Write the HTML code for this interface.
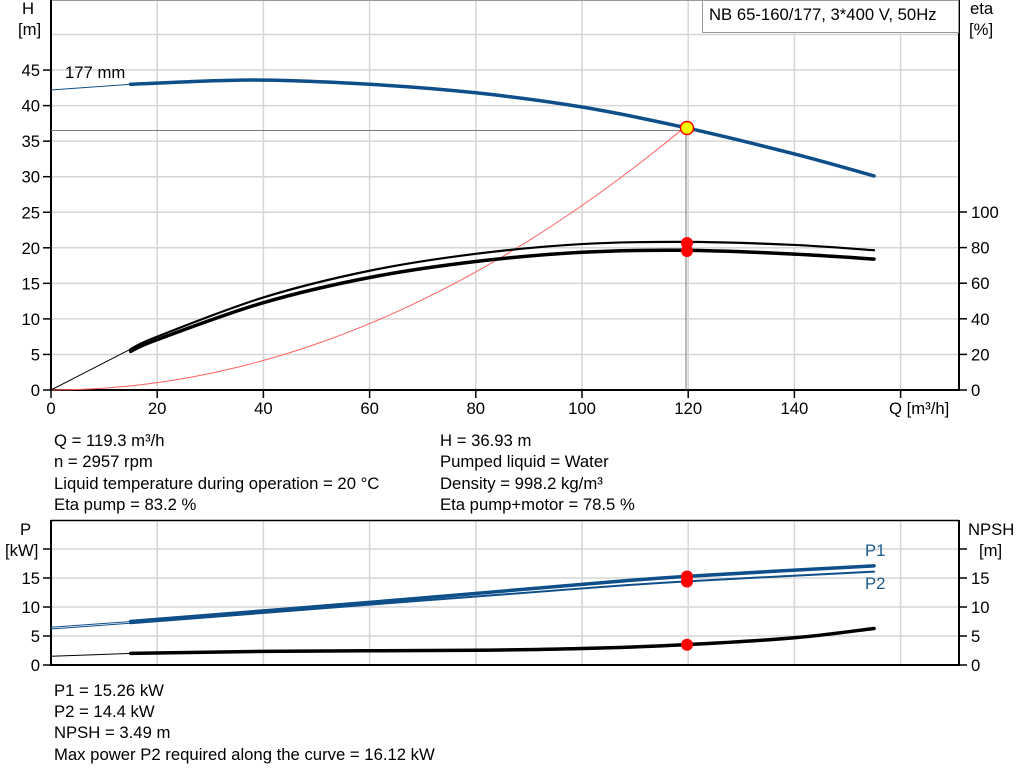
<!DOCTYPE html>
<html><head><meta charset="utf-8"><style>
html,body{margin:0;padding:0;background:#fff;}
svg{display:block;font-family:"Liberation Sans",Arial,sans-serif;}
text{font-size:16.7px;fill:#000;}
</style></head><body>
<svg id="s" width="1024" height="781" viewBox="0 0 1024 781" xmlns="http://www.w3.org/2000/svg">
<g id="grid" stroke="#d6d6d6" stroke-width="1.5"></g>
<line x1="51" y1="0.5" x2="959" y2="0.5" stroke="#999" stroke-width="1"/>
<line x1="51" y1="0" x2="51" y2="391" stroke="#000" stroke-width="2"/>
<line x1="959" y1="0" x2="959" y2="391" stroke="#000" stroke-width="2"/>
<line x1="50" y1="390" x2="960" y2="390" stroke="#000" stroke-width="2"/>
<line x1="51" y1="520.5" x2="959" y2="520.5" stroke="#000" stroke-width="1.5"/>
<line x1="51" y1="520" x2="51" y2="666" stroke="#000" stroke-width="2"/>
<line x1="959" y1="520" x2="959" y2="666" stroke="#000" stroke-width="2"/>
<line x1="50" y1="665" x2="960" y2="665" stroke="#000" stroke-width="2"/>
<g id="ticks" stroke="#000" stroke-width="1.5"></g>
<g id="labels"></g>
<rect x="702.5" y="0.5" width="256" height="32" fill="#fff" stroke="#999"/>
<text x="709" y="20">NB 65-160/177, 3*400 V, 50Hz</text>
<text x="22" y="14">H</text><text x="18" y="35">[m]</text>
<text x="970" y="14">eta</text><text x="969" y="35">[%]</text>
<text x="65" y="78">177 mm</text>
<text x="889" y="414">Q [m³/h]</text>
<text x="20" y="535">P</text><text x="5" y="556">[kW]</text>
<text x="968" y="535">NPSH</text><text x="979" y="556">[m]</text>
<text x="865" y="556" style="fill:#1a5a8a">P1</text>
<text x="865" y="589" style="fill:#1a5a8a">P2</text>
<g id="curves"></g>
<text x="54" y="446">Q = 119.3 m³/h</text>
<text x="54" y="467">n = 2957 rpm</text>
<text x="54" y="489">Liquid temperature during operation = 20 °C</text>
<text x="54" y="510">Eta pump = 83.2 %</text>
<text x="440" y="446">H = 36.93 m</text>
<text x="440" y="467">Pumped liquid = Water</text>
<text x="440" y="489">Density = 998.2 kg/m³</text>
<text x="440" y="510">Eta pump+motor = 78.5 %</text>
<text x="54" y="696">P1 = 15.26 kW</text>
<text x="54" y="717">P2 = 14.4 kW</text>
<text x="54" y="738">NPSH = 3.49 m</text>
<text x="54" y="760">Max power P2 required along the curve = 16.12 kW</text>
</svg>
<script>
var NS="http://www.w3.org/2000/svg";
function el(p,t,a){var e=document.createElementNS(NS,t);for(var k in a)e.setAttribute(k,a[k]);document.getElementById(p).appendChild(e);return e;}
function X(q){return 51+q*5.31;}
function YH(h){return 390-h*7.11;}
function YE(e){return 390-e*1.78;}
function YP(p){return 665-p*5.8;}
for(var q=20;q<=160;q+=20){el("grid","line",{x1:X(q),y1:1,x2:X(q),y2:390});el("grid","line",{x1:X(q),y1:520,x2:X(q),y2:665});}
for(var h=5;h<=55;h+=5){var y=YH(h);if(y>1)el("grid","line",{x1:51,y1:y,x2:959,y2:y});}
for(var p=5;p<=25;p+=5){var y=YP(p);if(y>521)el("grid","line",{x1:51,y1:y,x2:959,y2:y});}
for(var h=0;h<=45;h+=5){var y=YH(h);el("ticks","line",{x1:43,y1:y,x2:51,y2:y});var t=el("labels","text",{x:40,y:y+6,"text-anchor":"end"});t.textContent=h;}
for(var e=0;e<=100;e+=20){var y=YE(e);el("ticks","line",{x1:959,y1:y,x2:967,y2:y});var t=el("labels","text",{x:971,y:y+6});t.textContent=e;}
for(var q=0;q<=140;q+=20){el("ticks","line",{x1:X(q),y1:390,x2:X(q),y2:398});var t=el("labels","text",{x:X(q),y:414,"text-anchor":"middle"});t.textContent=q;}
el("ticks","line",{x1:X(160),y1:390,x2:X(160),y2:398});
for(var p=0;p<=20;p+=5){var y=YP(p);el("ticks","line",{x1:43,y1:y,x2:51,y2:y});el("ticks","line",{x1:959,y1:y,x2:967,y2:y});if(p<20){var t=el("labels","text",{x:40,y:y+6,"text-anchor":"end"});t.textContent=p;t=el("labels","text",{x:971,y:y+6});t.textContent=p;}}
function path(pts,fx,fy){var P=pts.map(function(a){return [fx(a[0]),fy(a[1])];});var d="M"+P[0][0]+","+P[0][1];
for(var i=0;i<P.length-1;i++){var p0=P[i-1]||P[i],p1=P[i],p2=P[i+1],p3=P[i+2]||P[i+1];
d+=" C"+(p1[0]+(p2[0]-p0[0])/6)+","+(p1[1]+(p2[1]-p0[1])/6)+" "+(p2[0]-(p3[0]-p1[0])/6)+","+(p2[1]-(p3[1]-p1[1])/6)+" "+p2[0]+","+p2[1];}return d;}
function curve(pts,fx,fy,c,w){el("curves","path",{d:path(pts,fx,fy),fill:"none",stroke:c,"stroke-width":w,"stroke-linecap":"round"});}
var blue="#0e4f8a";
el("curves","line",{x1:51,y1:130.5,x2:687,y2:130.5,stroke:"#777","stroke-width":1});
el("curves","line",{x1:686,y1:130,x2:686,y2:390,stroke:"#777","stroke-width":1});
var sys=[];for(var q=0;q<=119.3;q+=5)sys.push([q,36.93*q*q/(119.3*119.3)]);sys.push([119.3,36.93]);
curve(sys,X,YH,"#ff6060",1);
curve([[0,42.2],[15,43.0]],X,YH,blue,1);
curve([[15,43.0],[38,43.6],[60,43.0],[80,41.8],[100,39.8],[119.3,36.93],[140,33.2],[155,30.1]],X,YH,blue,3.5);
var ep=[[15,23],[20,30],[40,52],[60,67],[80,76.5],[100,82],[119.3,83.2],[140,81.5],[155,78.5]];
curve([[0,0],[15,23]],X,YE,"#000",1);
curve(ep,X,YE,"#000",2.2);
var em=ep.map(function(a){return [a[0],a[1]*(a[0]>120?0.937:0.9435)];});
curve(em,X,YE,"#000",3.5);
curve([[0,6.5],[15,7.5]],X,YP,blue,1);
curve([[15,7.5],[60,10.8],[100,13.9],[119.3,15.26],[155,17.1]],X,YP,blue,3.5);
curve([[0,6.2],[15,7.2]],X,YP,blue,1);
curve([[15,7.2],[60,10.4],[100,13.2],[119.3,14.4],[155,16.1]],X,YP,blue,2);
curve([[0,1.5],[15,2.0]],X,YP,"#000",1);
curve([[15,2.0],[40,2.35],[80,2.55],[100,2.85],[119.3,3.49],[140,4.7],[155,6.3]],X,YP,"#000",3.5);
el("curves","circle",{cx:687,cy:128,r:6.5,fill:"#ffff00",stroke:"#e00","stroke-width":1.5});
[243,251].forEach(function(y){el("curves","circle",{cx:687,cy:y,r:6,fill:"#f00"});});
[YP(15.26),YP(14.4),YP(3.49)].forEach(function(y){el("curves","circle",{cx:687,cy:y,r:6,fill:"#f00"});});
</script>
</body></html>
